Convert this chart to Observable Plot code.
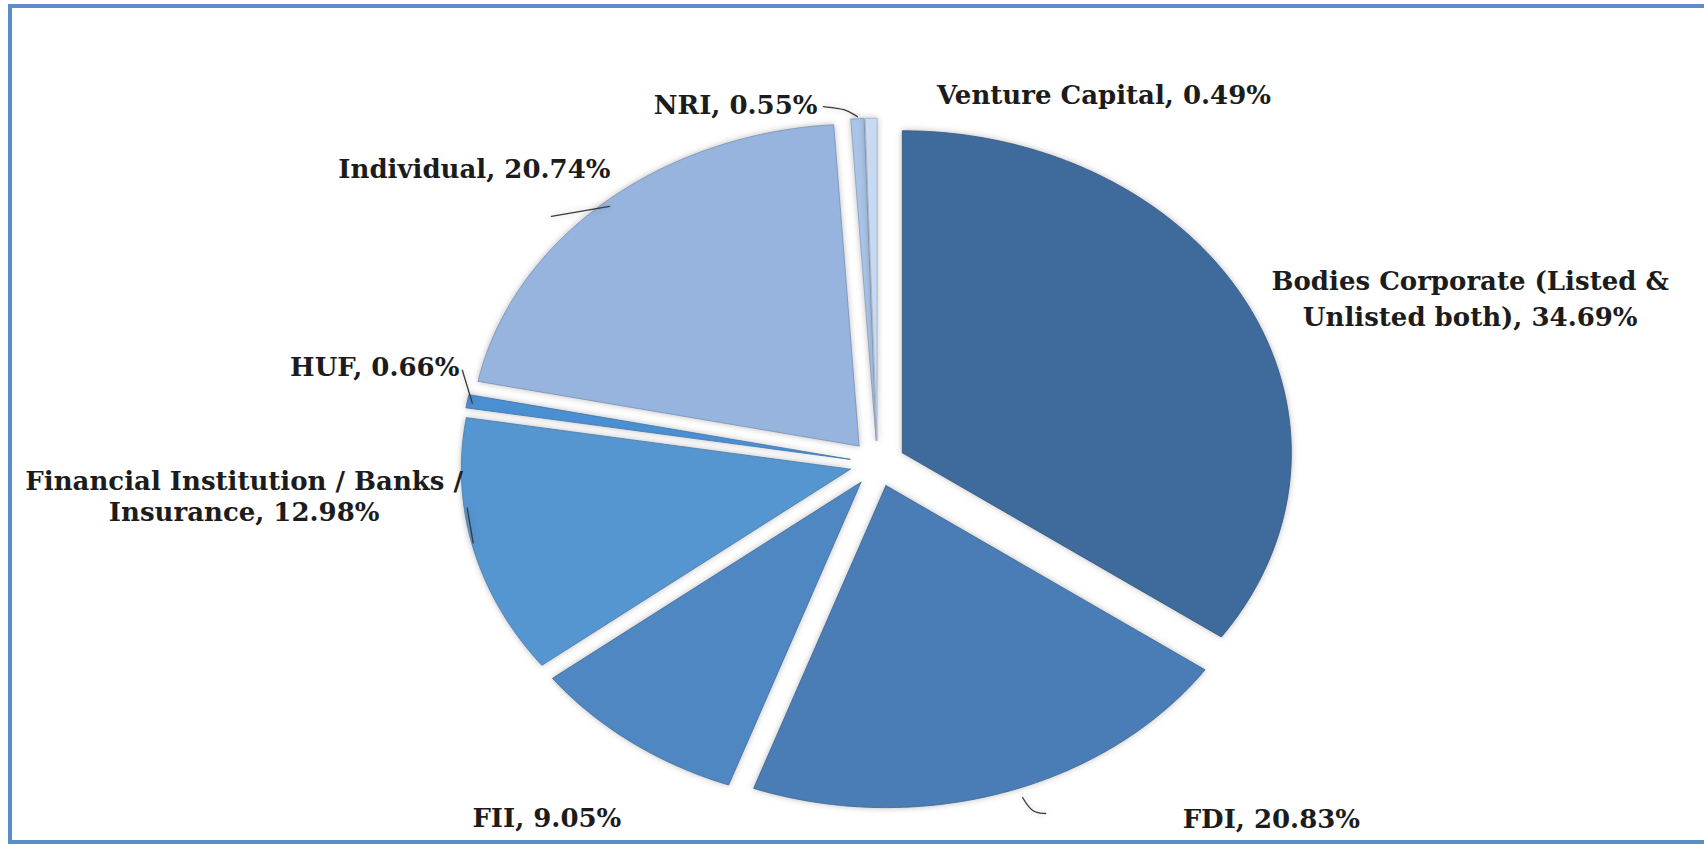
<!DOCTYPE html>
<html>
<head>
<meta charset="utf-8">
<script src="https://cdn.jsdelivr.net/npm/d3@7"></script>
<script src="https://cdn.jsdelivr.net/npm/@observablehq/plot@0.6"></script>
<style>
  html, body { margin: 0; padding: 0; background: #ffffff; overflow: hidden; }
  #wrap { position: relative; width: 1704px; height: 845px; }
  #frame { position: absolute; left: 8px; top: 4px; width: 1720px; height: 840px; box-sizing: border-box;
           border-left: 4px solid #5b8ec9; border-top: 4px solid #5b8ec9; border-bottom: 4px solid #5b8ec9; pointer-events: none; }
  #chart { position: absolute; left: 0; top: 0; }
  #chart g[aria-label="line"] path { filter: drop-shadow(0px 0px 3px rgba(60,60,60,0.35)); }
</style>
</head>
<body>
<div id="wrap">
  <div id="chart"></div>
  <div id="frame"></div>
</div>
<script>
// ---- data ----
const categories = ["Bodies Corporate (Listed & Unlisted both)", "FDI", "FII",
  "Financial Institution / Banks / Insurance", "HUF", "Individual", "NRI", "Venture Capital"];
const shares = [34.69, 20.83, 9.05, 12.98, 0.66, 20.74, 0.55, 0.49];
const labelNames = ["Bodies Corporate (Listed &\nUnlisted both)", "FDI", "FII",
  "Financial Institution / Banks /\nInsurance", "HUF", "Individual", "NRI", "Venture Capital"];
const sliceColors = ["#3e6b9b", "#4a7db5", "#4f87c3", "#5596d0", "#4b8fd3", "#96b4de", "#a9c4e8", "#c7daf2"];

// ---- layout (styles / offsets in pixels) ----
const W = 1704, H = 845;
const CX = 877, CY = 463, KX = 389, KY = 322;   // pie centre and radii in px
const explode = 0.072;
const labelLayout = [
  {anchor: "middle", dx: 223, dy: -7,  lh: 1.38},
  {anchor: "start",  dx: 179, dy: 25,  lh: 1.2},
  {anchor: "end",    dx: -10, dy: 75,  lh: 1.2},
  {anchor: "middle", dx: -229, dy: -52, lh: 1.17},
  {anchor: "end",    dx: -8,  dy: -35, lh: 1.2},
  {anchor: "end",    dx: 7,   dy: -35, lh: 1.2},
  {anchor: "end",    dx: -40, dy: -15, lh: 1.2},
  {anchor: "start",  dx: 66,  dy: -24, lh: 1.2}
];
const leaderLayout = [
  null,
  [[19, 5], [28, 20], [42, 21]],
  null,
  [[0, -5], [-6, -40]],
  [[5, 2], [-5, -31]],
  [[6, 3], [-52, 13]],
  [[0, -2], [-12, -10], [-34, -12]],
  null
];

// ---- geometry from data ----
const arcs = d3.pie().sort(null).value(d => d)(shares);
const slices = arcs.map((a, i) => {
  const mid = (a.startAngle + a.endAngle) / 2;
  const ox = explode * Math.sin(mid), oy = explode * Math.cos(mid);
  const n = Math.max(2, Math.ceil((a.endAngle - a.startAngle) / (Math.PI / 360)));
  const pts = [{x: ox, y: oy}];
  for (let k = 0; k <= n; k++) {
    const t = a.startAngle + (a.endAngle - a.startAngle) * k / n;
    pts.push({x: ox + Math.sin(t), y: oy + Math.cos(t)});
  }
  pts.push({x: ox, y: oy});
  const edge = {x: (1 + explode) * Math.sin(mid), y: (1 + explode) * Math.cos(mid)};
  return {i, name: categories[i], value: shares[i], color: sliceColors[i], pts, edge,
          label: `${labelNames[i]}, ${shares[i].toFixed(2)}%`};
});

const marks = [];
slices.forEach(s => {
  marks.push(Plot.line(s.pts, {x: "x", y: "y", fill: s.color,
    stroke: d3.color(s.color).darker(0.6).formatHex(), strokeWidth: 1, strokeOpacity: 0.8, curve: "linear"}));
});
slices.forEach(s => {
  const L = leaderLayout[s.i];
  if (!L) return;
  const pts = L.map(([px, py]) => ({x: s.edge.x + px / KX, y: s.edge.y - py / KY}));
  marks.push(Plot.line(pts, {x: "x", y: "y", stroke: "#3a3a3a", strokeWidth: 1.3, curve: "basis"}));
});
slices.forEach(s => {
  const L = labelLayout[s.i];
  marks.push(Plot.text([s], {x: d => d.edge.x, y: d => d.edge.y, text: "label",
    textAnchor: L.anchor, dx: L.dx, dy: L.dy, lineAnchor: "middle", lineHeight: L.lh,
    fontSize: 26, fontWeight: "bold", fontFamily: "DejaVu Serif", fill: "#1c1c1c"}));
});

const chart = Plot.plot({
  width: W, height: H, margin: 0,
  style: {background: "transparent", overflow: "visible"},
  x: {domain: [-CX / KX, (W - CX) / KX], axis: null},
  y: {domain: [(CY - H) / KY, CY / KY], axis: null},
  marks
});
document.getElementById("chart").appendChild(chart);
</script>
</body>
</html>
